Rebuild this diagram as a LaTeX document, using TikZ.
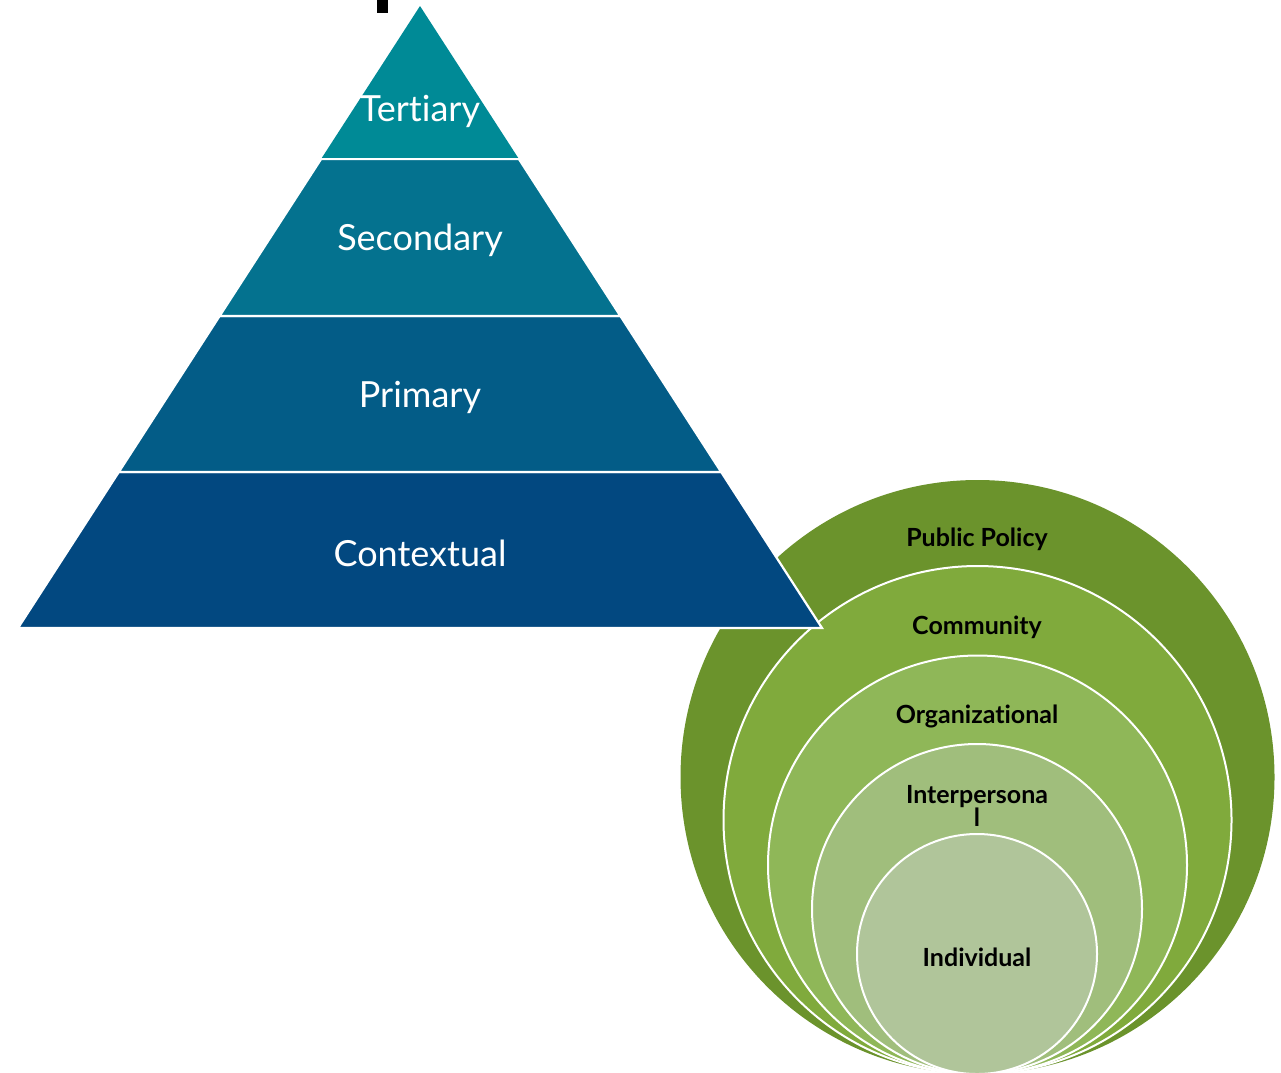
\documentclass[tikz,border=0pt]{standalone}
\usepackage{fontspec}
\setmainfont{Lato}[Ligatures=NoCommon]
\definecolor{cTer}{HTML}{008A96}
\definecolor{cSec}{HTML}{04728F}
\definecolor{cPri}{HTML}{035C87}
\definecolor{cCon}{HTML}{024880}
\definecolor{gA}{HTML}{6B932C}
\definecolor{gB}{HTML}{80AA3C}
\definecolor{gC}{HTML}{8FB758}
\definecolor{gD}{HTML}{A0BE7C}
\definecolor{gE}{HTML}{B0C59A}
\tikzset{
  band/.style={draw=white, line width=2.2pt, line join=miter},
  ring/.style={draw=white, line width=2pt},
  plabel/.style={text=white, font=\fontsize{36}{40}\selectfont, inner sep=0pt},
  clabel/.style={text=black, font=\bfseries\fontsize{25}{23}\selectfont, inner sep=0pt, align=center}
}
\begin{document}
\begin{tikzpicture}[x=1pt,y=-1pt]
\useasboundingbox (0,0) rectangle (1281,1072);
% circles
\fill[gA] (977.5,777) circle[radius=297];
\filldraw[ring, fill=gB] (977.5,820) circle[radius=254];
\filldraw[ring, fill=gC] (977.5,865) circle[radius=209.5];
\filldraw[ring, fill=gD] (977,909) circle[radius=165];
\filldraw[ring, fill=gE] (977,954) circle[radius=120];
% pyramid
\filldraw[band, fill=cCon] (118.8,472) -- (721.2,472) -- (822,628) -- (18,628) -- cycle;
\filldraw[band, fill=cPri] (219.6,316) -- (620.4,316) -- (721.2,472) -- (118.8,472) -- cycle;
\filldraw[band, fill=cSec] (321.1,159) -- (518.9,159) -- (620.4,316) -- (219.6,316) -- cycle;
\fill[cTer] (420,6) -- (518.9,159) -- (321.1,159) -- cycle;
\draw[white, line width=2.2pt] (321.1,159) -- (518.9,159);
% mark at top
\fill[black] (376.5,0) rectangle (388,12.5);
% labels
\node[plabel] (ter) at (420,111) {Tertiary};
\node[plabel] (sec) at (420,240) {Secondary};
\node[plabel] (pri) at (420,397) {Primary};
\node[plabel] (con) at (420,553) {Contextual};
\node[clabel] (pub) at (977,539) {Public Policy};
\node[clabel] (com) at (977,627) {Community};
\node[clabel] (org) at (977,716) {Organizational};
\node[clabel] (int) at (977,806) {Interpersona\\l};
\node[clabel] (ind) at (977,957) {Individual};
\end{tikzpicture}
\end{document}
